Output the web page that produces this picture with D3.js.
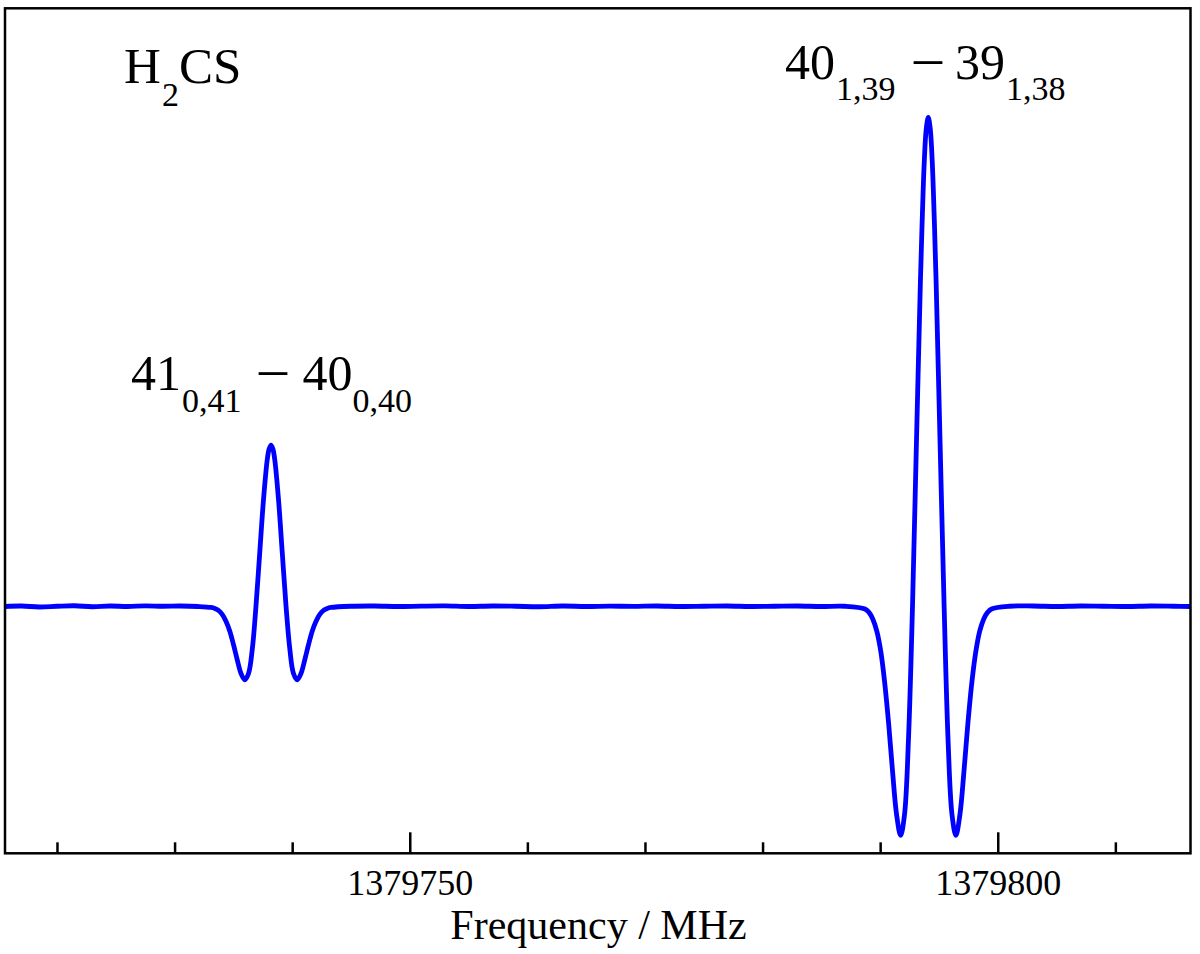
<!DOCTYPE html>
<html>
<head>
<meta charset="utf-8">
<script src="https://cdn.jsdelivr.net/npm/d3@7"></script>
<style>
  html, body { margin: 0; padding: 0; background: #fff; }
  svg { display: block; }
  text { font-family: "Liberation Serif", "Times New Roman", serif; fill: #000; }
</style>
</head>
<body>
<svg id="chart" width="1200" height="954"></svg>
<script>
// ---- Data ----
// Frequency axis (MHz)
const xDomain = [1379715.58, 1379816.39];
// Intensity (arbitrary units, baseline = 0, strongest line = 100)
const yDomain = [-50.47, 122.33];

const minorTicks = [1379720, 1379730, 1379740, 1379760, 1379770, 1379780, 1379790, 1379810];
const majorTicks = [1379750, 1379800];
const majorTickLabels = ["1379750", "1379800"];

// Baseline segments
const baselineLeft = [
  [1379715.58, 0.0], [1379717.0, 0.1], [1379718.5, -0.1], [1379720.0, 0.05], [1379721.5, 0.15],
  [1379723.0, -0.05], [1379724.5, 0.1], [1379726.0, 0.0], [1379727.5, 0.12], [1379729.0, 0.05],
  [1379730.5, 0.1], [1379732.0, 0.0]
];
// 41(0,41) - 40(0,40) line
const line1 = [
  [1379733.10, -0.2], [1379733.42, -0.4], [1379733.73, -0.8], [1379734.05, -1.6], [1379734.37, -3.0],
  [1379734.69, -5.0], [1379735.01, -7.8], [1379735.33, -10.9], [1379735.65, -13.7], [1379735.97, -15.0],
  [1379736.29, -13.7], [1379736.61, -8.7], [1379736.92, 0.0], [1379737.24, 10.9], [1379737.56, 21.8],
  [1379737.88, 30.0], [1379738.04, 32.2], [1379738.20, 33.0], [1379738.36, 32.2], [1379738.52, 30.0],
  [1379738.84, 21.8], [1379739.16, 10.9], [1379739.48, 0.0], [1379739.80, -8.7], [1379740.11, -13.7],
  [1379740.43, -15.0], [1379740.75, -13.7], [1379741.07, -10.9], [1379741.39, -7.8], [1379741.71, -5.0],
  [1379742.03, -3.0], [1379742.35, -1.6], [1379742.67, -0.8], [1379742.98, -0.4], [1379743.30, -0.2]
];
const baselineMiddle = [
  [1379745.0, 0.05], [1379747.0, 0.1], [1379749.0, 0.0], [1379751.0, 0.08], [1379753.0, 0.12],
  [1379755.0, 0.0], [1379757.0, 0.1], [1379759.0, 0.05], [1379761.0, -0.05], [1379763.0, 0.1],
  [1379765.0, 0.0], [1379767.0, 0.08], [1379769.0, 0.02], [1379771.0, 0.1], [1379773.0, 0.0],
  [1379775.0, 0.05], [1379777.0, 0.1], [1379779.0, 0.0], [1379781.0, 0.05], [1379783.0, 0.1],
  [1379785.0, 0.0], [1379787.0, 0.05]
];
// 40(1,39) - 39(1,38) line
const line2 = [
  [1379788.71, -0.5], [1379789.05, -1.2], [1379789.38, -2.6], [1379789.72, -5.1], [1379790.06, -9.3],
  [1379790.39, -15.7], [1379790.73, -24.2], [1379791.06, -33.9], [1379791.40, -42.6], [1379791.74, -46.8],
  [1379792.07, -42.6], [1379792.41, -27.0], [1379792.75, 0.0], [1379793.08, 33.0], [1379793.42, 66.2],
  [1379793.59, 80.1], [1379793.75, 90.9], [1379793.92, 97.7], [1379794.09, 100.0], [1379794.26, 97.7],
  [1379794.43, 90.9], [1379794.59, 80.1], [1379794.76, 66.2], [1379795.10, 33.0], [1379795.44, 0.0],
  [1379795.77, -27.0], [1379796.11, -42.6], [1379796.44, -46.8], [1379796.78, -42.6], [1379797.12, -33.9],
  [1379797.45, -24.2], [1379797.79, -15.7], [1379798.13, -9.3], [1379798.46, -5.1], [1379798.80, -2.6],
  [1379799.13, -1.2], [1379799.47, -0.5]
];
const baselineRight = [
  [1379801.0, 0.05], [1379803.0, 0.1], [1379805.0, 0.0], [1379807.0, 0.1], [1379809.0, 0.05],
  [1379811.0, 0.0], [1379813.0, 0.1], [1379815.0, 0.05], [1379816.39, 0.0]
];

const spectrum = [].concat(baselineLeft, line1, baselineMiddle, line2, baselineRight);

// ---- Layout ----
const frame = { left: 5, right: 1190.5, top: 8.3, bottom: 853.3 };

const svg = d3.select("#chart");

const x = d3.scaleLinear().domain(xDomain).range([frame.left, frame.right]);
const y = d3.scaleLinear().domain(yDomain).range([frame.bottom, frame.top]);

// Clip
svg.append("defs").append("clipPath").attr("id", "clip")
  .append("rect")
  .attr("x", frame.left).attr("y", frame.top)
  .attr("width", frame.right - frame.left).attr("height", frame.bottom - frame.top);

// Spectrum line
const lineGen = d3.line()
  .x(d => x(d[0]))
  .y(d => y(d[1]))
  .curve(d3.curveCatmullRom.alpha(0.5));

svg.append("path")
  .datum(spectrum)
  .attr("clip-path", "url(#clip)")
  .attr("fill", "none")
  .attr("stroke", "#0000ff")
  .attr("stroke-width", 4.8)
  .attr("stroke-linejoin", "round")
  .attr("stroke-linecap", "round")
  .attr("d", lineGen);

// Minor ticks
const minorAxis = d3.axisBottom(x)
  .tickValues(minorTicks)
  .tickSize(-11)
  .tickFormat("");
const gMinor = svg.append("g")
  .attr("transform", `translate(0,${frame.bottom})`)
  .call(minorAxis);
gMinor.select(".domain").remove();
gMinor.selectAll(".tick line").attr("stroke", "#000").attr("stroke-width", 2.5);

// Major ticks with labels
const majorAxis = d3.axisBottom(x)
  .tickValues(majorTicks)
  .tickSize(-21)
  .tickPadding(16)
  .tickFormat((d, i) => majorTickLabels[i]);
const gMajor = svg.append("g")
  .attr("transform", `translate(0,${frame.bottom})`)
  .call(majorAxis);
gMajor.select(".domain").remove();
gMajor.selectAll(".tick line").attr("stroke", "#000").attr("stroke-width", 2.5);
gMajor.selectAll(".tick text")
  .attr("font-family", "Liberation Serif, Times New Roman, serif")
  .attr("font-size", 36)
  .attr("fill", "#000");

// Frame
svg.append("rect")
  .attr("x", frame.left).attr("y", frame.top)
  .attr("width", frame.right - frame.left)
  .attr("height", frame.bottom - frame.top)
  .attr("fill", "none")
  .attr("stroke", "#000")
  .attr("stroke-width", 2.5);

// Axis title
svg.append("text")
  .attr("x", 598.5).attr("y", 939)
  .attr("text-anchor", "middle")
  .attr("font-size", 42)
  .text("Frequency / MHz");

// Molecule label H2CS
const mol = svg.append("text").attr("font-size", 51);
mol.append("tspan").attr("x", 124).attr("y", 83.3).text("H");
mol.append("tspan").attr("x", 162).attr("y", 106).attr("font-size", 34).text("2");
mol.append("tspan").attr("x", 179).attr("y", 83.3).text("CS");

// Transition labels
function transitionLabel(parts, baseY, subY) {
  const t = svg.append("text").attr("font-size", 50);
  parts.forEach(p => {
    const yy = p.sub ? subY : (p.dash ? baseY - 3 : baseY);
    t.append("tspan")
      .attr("x", p.x)
      .attr("y", yy)
      .attr("font-size", p.sub ? 34 : (p.dash ? 56 : 50))
      .text(p.s);
  });
}
transitionLabel([
  { s: "41", x: 131, sub: false },
  { s: "0,41", x: 182, sub: true },
  { s: "\u2013", x: 259, sub: false, dash: true },
  { s: "40", x: 302.5, sub: false },
  { s: "0,40", x: 352.5, sub: true }
], 390, 411.5);

transitionLabel([
  { s: "40", x: 785, sub: false },
  { s: "1,39", x: 836, sub: true },
  { s: "\u2013", x: 914, sub: false, dash: true },
  { s: "39", x: 955, sub: false },
  { s: "1,38", x: 1006, sub: true }
], 78.5, 100);
</script>
</body>
</html>
